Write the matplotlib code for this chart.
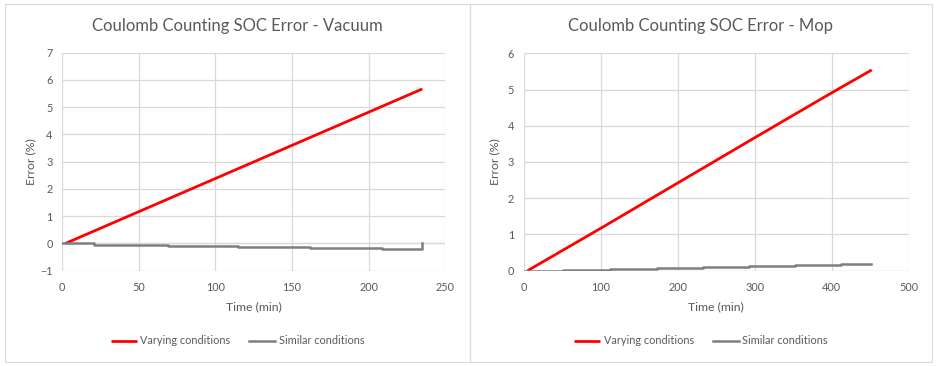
import matplotlib
matplotlib.use("Agg")
import matplotlib.pyplot as plt
from matplotlib.patches import Rectangle

plt.rcParams["font.family"] = ["Lato", "DejaVu Sans"]

# Vacuum test
vac_t_varying = [2, 235]
vac_err_varying = [0.0, 5.67]
vac_t_similar = [0, 21, 69, 115, 162, 209, 235, 235]
vac_err_similar = [0.0, -0.04, -0.08, -0.12, -0.16, -0.2, -0.2, 0.0]

# Mop test
mop_t_varying = [5, 100, 200, 300, 400, 452]
mop_err_varying = [0.0, 1.17, 2.42, 3.67, 4.91, 5.54]
mop_t_similar = [0, 51, 112, 173, 233, 293, 352, 412, 451]
mop_err_similar = [0.0, 0.028, 0.056, 0.084, 0.112, 0.14, 0.168, 0.19, 0.19]

W, H = 937, 366
TXT = "#595959"
GRID = "#D9D9D9"
RED = "#FF0000"
GRAY = "#7F7F7F"

fig = plt.figure(figsize=(W / 100, H / 100), dpi=100)


def px_box(x0, y0, x1, y1):
    return [x0 / W, 1 - y1 / H, (x1 - x0) / W, (y1 - y0) / H]


def panel(box, ax_px, title, t_var, e_var, t_sim, e_sim, xlim, xstep, ylim, ylab_x):
    bx0, by0, bx1, by1 = box
    fig.patches.append(Rectangle((bx0 / W, 1 - by1 / H), (bx1 - bx0) / W, (by1 - by0) / H,
                                 transform=fig.transFigure, fill=False, edgecolor=GRID, lw=0.8))
    ax = fig.add_axes(px_box(*ax_px))
    ax.plot(t_var, e_var, color=RED, lw=2.0, label="Varying conditions", solid_capstyle="butt")
    ax.plot(t_sim, e_sim, color=GRAY, lw=1.8, drawstyle="steps-post", label="Similar conditions")
    ax.set_xlim(*xlim)
    ax.set_ylim(*ylim)
    ax.set_xticks(range(xlim[0], xlim[1] + 1, xstep))
    ax.set_yticks(range(ylim[0], ylim[1] + 1))
    ax.grid(True, color=GRID, lw=0.9)
    ax.axhline(0, color=GRID, lw=0.9, zorder=0.5)
    ax.set_axisbelow(True)
    for s in ax.spines.values():
        s.set_visible(False)
    ax.tick_params(length=0, labelsize=7.8, colors=TXT)
    ax.tick_params(axis="x", pad=8)
    ax.tick_params(axis="y", pad=7)
    cx = (bx0 + bx1) / 2 / W
    fig.text(cx, 1 - 26 / H, title, ha="center", va="center", fontsize=12.0, color=TXT)
    axc = (ax_px[0] + ax_px[2]) / 2
    fig.text(axc / W, 1 - 307 / H, "Time (min)", ha="center", va="center", fontsize=8.8, color=TXT)
    fig.text(ylab_x / W, 1 - (ax_px[1] + ax_px[3]) / 2 / H, "Error (%)", ha="center", va="center",
             rotation=90, fontsize=8.8, color=TXT)
    h, l = ax.get_legend_handles_labels()
    fig.legend(h, l, loc="center", bbox_to_anchor=(cx, 1 - 341 / H), ncol=2, frameon=False,
               fontsize=7.8, labelcolor=TXT, handlelength=2.4, handletextpad=0.3,
               columnspacing=1.75)
    return ax


panel((5, 4, 470, 362), (62.3, 52.7, 445.3, 270.7), "Coulomb Counting SOC Error - Vacuum",
      vac_t_varying, vac_err_varying, vac_t_similar, vac_err_similar,
      (0, 250), 50, (-1, 7), 31)
panel((470, 4, 932, 362), (523.7, 53.3, 908.7, 270.7), "Coulomb Counting SOC Error - Mop",
      mop_t_varying, mop_err_varying, mop_t_similar, mop_err_similar,
      (0, 500), 100, (0, 6), 495)

fig.savefig("out.png", dpi=100, facecolor="white")
